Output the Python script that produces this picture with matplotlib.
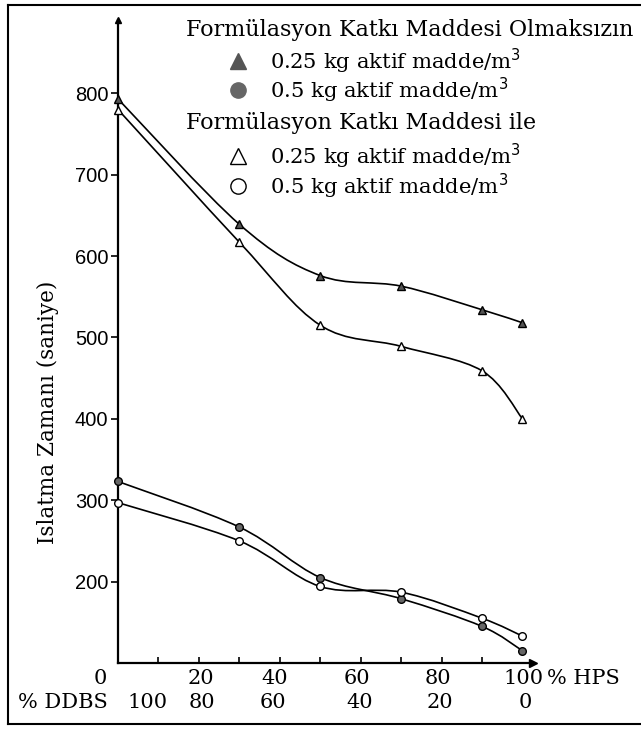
import matplotlib
matplotlib.use("Agg")
import matplotlib.pyplot as plt
import numpy as np
from matplotlib.path import Path
from matplotlib.patches import PathPatch
from matplotlib.lines import Line2D

# % HPS in the mixture
hps = [0, 30, 50, 70, 90, 100]

# wetting time (s), without formulation additive
no_add_025 = [793, 639, 576, 563, 534, 518]
no_add_05 = [323, 267, 205, 179, 145, 115]
# wetting time (s), with formulation additive
add_025 = [780, 617, 515, 489, 459, 400]
add_05 = [297, 250, 194, 187, 155, 133]

hps_labels = ["0", "20", "40", "60", "80", "100"]
ddbs_labels = ["100", "80", "60", "40", "20", "0"]
y_ticks = [200, 300, 400, 500, 600, 700, 800]

serif = ["DejaVu Serif"]
W, H = 641, 732


def fx(px):
    return px / W


def fy(py):
    return 1 - py / H


def smooth_path(x, y):
    # catmull-rom through the points, drawn as cubic bezier segments
    p = np.column_stack([x, y]).astype(float)
    ext = np.vstack([p[0], p, p[-1]])
    verts = [p[0]]
    codes = [Path.MOVETO]
    for i in range(1, len(ext) - 2):
        c1 = ext[i] + (ext[i + 1] - ext[i - 1]) / 6
        c2 = ext[i + 1] - (ext[i + 2] - ext[i]) / 6
        verts += [c1, c2, ext[i + 1]]
        codes += [Path.CURVE4] * 3
    return Path(verts, codes)


fig = plt.figure(figsize=(6.41, 7.32), dpi=100)
ax = fig.add_axes([fx(118), fy(663), fx(533) - fx(118), fy(20) - fy(663)])

series = [
    (no_add_025, "^", "#555555"),
    (add_025, "^", "white"),
    (no_add_05, "o", "#666666"),
    (add_05, "o", "white"),
]
for vals, mk, fc in series:
    ax.add_patch(PathPatch(smooth_path(hps, vals), fc="none", ec="black", lw=1.2))
    ax.plot(hps, vals, ls="none", marker=mk, ms=5.5, mfc=fc, mec="black", mew=1.0,
            clip_on=False, zorder=3)

ax.set_xlim(0, 102.6)
ax.set_ylim(100, 890)
ax.spines[["top", "right"]].set_visible(False)
ax.spines[["left", "bottom"]].set_linewidth(1.6)

ax.set_yticks(y_ticks)
ax.set_yticklabels([str(v) for v in y_ticks], family=["Liberation Sans", "DejaVu Sans"],
                   fontsize=14.5)
ax.tick_params(axis="y", direction="out", length=5, width=1.2, pad=2)
ax.set_xticks([])
ax.set_xticks(range(10, 100, 10), minor=True)
ax.tick_params(axis="x", which="minor", direction="in", length=4, width=1.2)

# arrow tips on the axes
ax.plot(1, 0, marker=">", ms=6, color="black", transform=ax.transAxes, clip_on=False)
ax.plot(0, 1, marker="^", ms=5, color="black", transform=ax.transAxes, clip_on=False)

# two rows of x labels
tr = ax.get_xaxis_transform()
hps_pos = [-4.3, 20.5, 38.8, 59, 79, 100.3]
ddbs_pos = [7.2, 20.8, 38.3, 59.8, 79.6, 100.6]
for lab, xp in zip(hps_labels, hps_pos):
    ax.text(xp, -0.024, lab, transform=tr, ha="center", va="center", family=serif,
            fontsize=15, clip_on=False)
for lab, xp in zip(ddbs_labels, ddbs_pos):
    ax.text(xp, -0.061, lab, transform=tr, ha="center", va="center", family=serif,
            fontsize=15, clip_on=False)
fig.text(fx(547), fy(678), "% HPS", ha="left", va="center", family=serif, fontsize=15)
fig.text(fx(63), fy(702), "% DDBS", ha="center", va="center", family=serif, fontsize=15)

fig.text(fx(48), fy(412), "Islatma Zamanı (saniye)", rotation=90, ha="center",
         va="center", family=serif, fontsize=15.5)

# legend drawn by hand
fig.text(fx(186), fy(30), "Formülasyon Katkı Maddesi Olmaksızın", ha="left",
         va="center", family=serif, fontsize=16)
fig.text(fx(186), fy(123), "Formülasyon Katkı Maddesi ile", ha="left",
         va="center", family=serif, fontsize=16)
leg_rows = [
    (61, "^", "#555555", "0.25 kg aktif madde/m$^3$"),
    (90, "o", "#666666", "0.5 kg aktif madde/m$^3$"),
    (156, "^", "white", "0.25 kg aktif madde/m$^3$"),
    (186, "o", "white", "0.5 kg aktif madde/m$^3$"),
]
for py, mk, fc, lab in leg_rows:
    fig.add_artist(Line2D([fx(238)], [fy(py)], ls="none", marker=mk, ms=11,
                          mfc=fc, mec="black" if fc == "white" else fc, mew=1.0))
    fig.text(fx(270), fy(py), lab, ha="left", va="center", family=serif, fontsize=15.2)

# frame around the figure
fig.add_artist(Line2D([fx(8), fx(8)], [fy(5), fy(724)], color="black", lw=1.5))
fig.add_artist(Line2D([fx(8), 1], [fy(5), fy(5)], color="black", lw=1.5))
fig.add_artist(Line2D([fx(8), 1], [fy(724), fy(724)], color="black", lw=1.5))

fig.savefig("out.png", dpi=100)
